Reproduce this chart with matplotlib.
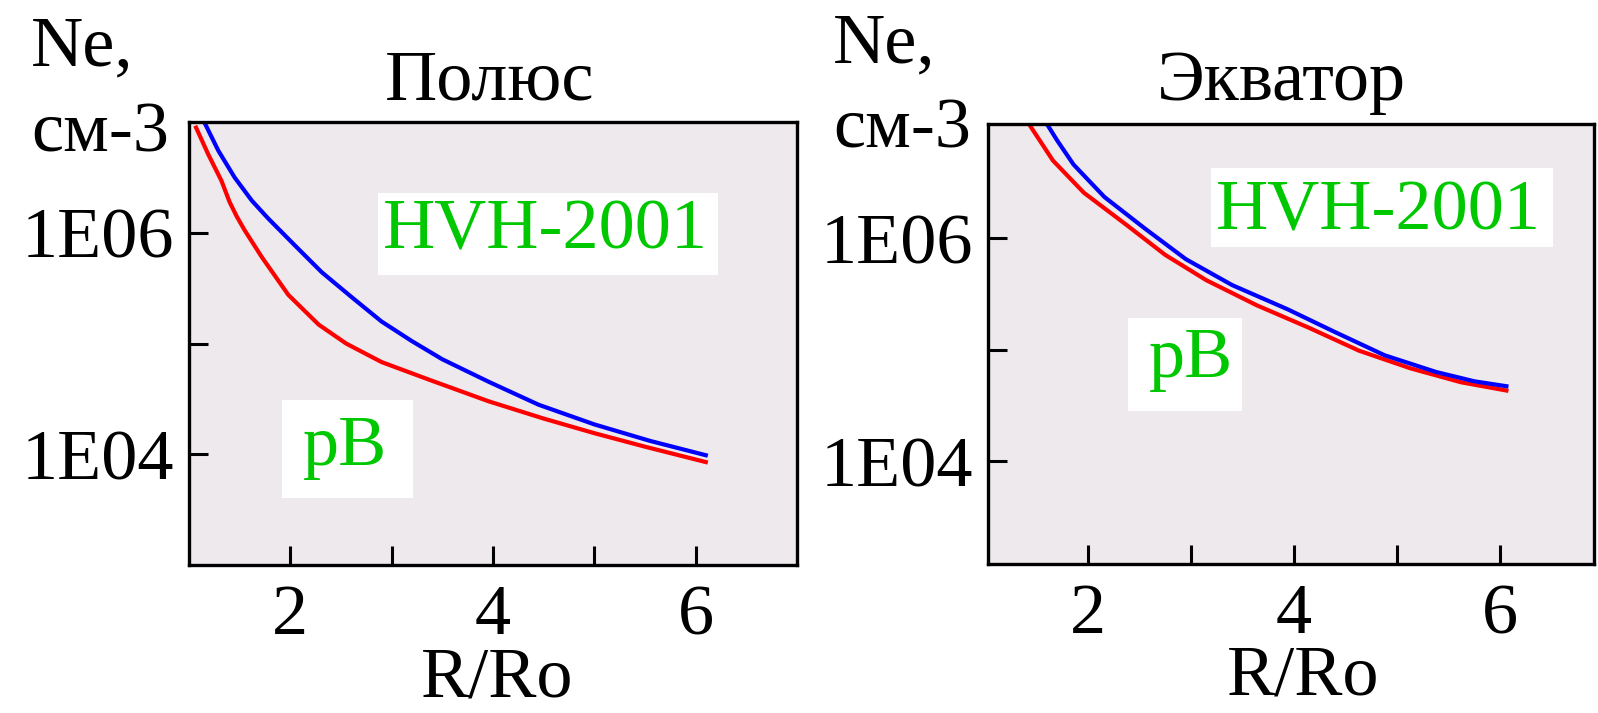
import matplotlib
matplotlib.use("Agg")
import matplotlib.pyplot as plt
from matplotlib.patches import Rectangle
from matplotlib.ticker import FixedLocator, FixedFormatter, NullLocator

W, H, DPI = 1598, 713, 100

# Electron density profiles, Ne [cm^-3] versus R/Ro
# Polar region
r_pole_hvh = [1.15, 1.29, 1.45, 1.62, 1.78, 2.05, 2.31, 2.61, 2.90, 3.20, 3.50,
              3.96, 4.45, 5.00, 5.55, 6.10]
ne_pole_hvh = [1.0e7, 5.5e6, 3.16e6, 1.95e6, 1.35e6, 7.6e5, 4.4e5, 2.6e5, 1.58e5,
               1.05e5, 7.2e4, 4.5e4, 2.8e4, 1.86e4, 1.32e4, 9.8e3]
r_pole_pb = [1.07, 1.19, 1.32, 1.40, 1.47, 1.55, 1.72, 1.98, 2.28, 2.55, 2.90,
             3.40, 3.96, 4.50, 5.00, 5.50, 6.10]
ne_pole_pb = [8.9e6, 5.1e6, 2.95e6, 1.9e6, 1.41e6, 1.05e6, 6.0e5, 2.75e5, 1.48e5,
              1.0e5, 6.8e4, 4.6e4, 3.0e4, 2.1e4, 1.55e4, 1.17e4, 8.5e3]

# Equatorial region
r_eq_hvh = [1.60, 1.70, 1.86, 2.16, 2.55, 2.95, 3.40, 3.94, 4.39, 4.88, 5.38,
            5.75, 6.06]
ne_eq_hvh = [1.07e7, 7.6e6, 4.6e6, 2.35e6, 1.23e6, 6.5e5, 3.8e5, 2.3e5, 1.45e5,
             8.9e4, 6.3e4, 5.2e4, 4.7e4]
r_eq_pb = [1.44, 1.66, 1.96, 2.36, 2.75, 3.15, 3.64, 4.14, 4.63, 5.13, 5.62, 6.06]
ne_eq_pb = [1.02e7, 5.0e6, 2.57e6, 1.35e6, 7.1e5, 4.2e5, 2.5e5, 1.58e5, 9.8e4,
            6.8e4, 5.1e4, 4.3e4]

panel_titles = ["Полюс", "Экватор"]
x_ticks = [2, 3, 4, 5, 6]
x_tick_labels = ["2", "", "4", "", "6"]
y_ticks = [1e4, 1e5, 1e6]
y_tick_labels = ["1E04", "", "1E06"]
x_label = "R/Ro"
y_label_lines = ["Ne,", "см-3"]
model_label = "HVH-2001"
obs_label = "pB"

plt.rcParams['font.family'] = ['Liberation Serif', 'DejaVu Serif']
FS = 52
GREEN = "#00C800"
BG = "#EDE9EC"


def fx(x):
    return x / W


def fy(y):
    return 1 - y / H


fig = plt.figure(figsize=(W / DPI, H / DPI), dpi=DPI)
fig.patch.set_facecolor("white")

panels = [
    dict(rect=(189, 122, 797, 565), xlim=(1.0, 7.0), ylim=(1e3, 1e7),
         hvh=(r_pole_hvh, ne_pole_hvh), pb=(r_pole_pb, ne_pole_pb),
         title_x=490, ylab_x=31, ylab_y=(65, 151), xlab=(497, 697),
         hvh_box=(378, 193, 718, 275), hvh_txt=(383, 249),
         pb_box=(282, 400, 413, 498), pb_txt=(303, 465)),
    dict(rect=(988, 124, 1594, 564), xlim=(1.03, 6.91), ylim=(1.19e3, 1.064e7),
         hvh=(r_eq_hvh, ne_eq_hvh), pb=(r_eq_pb, ne_eq_pb),
         title_x=1281, ylab_x=833, ylab_y=(62, 148), xlab=(1303, 694),
         hvh_box=(1211, 168, 1553, 247), hvh_txt=(1216, 230),
         pb_box=(1128, 318, 1242, 411), pb_txt=(1149, 377)),
]

for p, title in zip(panels, panel_titles):
    l, t, r, b = p["rect"]
    ax = fig.add_axes([fx(l), fy(b), (r - l) / W, (b - t) / H])
    ax.set_facecolor(BG)
    ax.set_yscale("log")
    ax.set_xlim(*p["xlim"])
    ax.set_ylim(*p["ylim"])

    ax.plot(*p["pb"], color="#FF0000", lw=3.0, solid_joinstyle="round")
    ax.plot(*p["hvh"], color="#0000FF", lw=3.0, solid_joinstyle="round")

    ax.xaxis.set_major_locator(FixedLocator(x_ticks))
    ax.xaxis.set_major_formatter(FixedFormatter(x_tick_labels))
    ax.yaxis.set_major_locator(FixedLocator(y_ticks))
    ax.yaxis.set_major_formatter(FixedFormatter(y_tick_labels))
    ax.xaxis.set_minor_locator(NullLocator())
    ax.yaxis.set_minor_locator(NullLocator())
    ax.tick_params(axis="both", direction="in", length=14, width=2.2,
                   labelsize=FS, colors="black")
    ax.tick_params(axis="x", pad=14)
    ax.tick_params(axis="y", pad=11)
    for s in ax.spines.values():
        s.set_linewidth(2.4)
        s.set_color("black")

    # Panel title and axis labels
    fig.text(fx(p["title_x"]), fy(100), title, ha="center", va="baseline",
             fontsize=FS)
    fig.text(fx(p["ylab_x"]), fy(p["ylab_y"][0]), y_label_lines[0],
             ha="left", va="baseline", fontsize=FS)
    fig.text(fx(p["ylab_x"]), fy(p["ylab_y"][1]), y_label_lines[1],
             ha="left", va="baseline", fontsize=FS)
    fig.text(fx(p["xlab"][0]), fy(p["xlab"][1]), x_label, ha="center",
             va="baseline", fontsize=FS)

    # Curve labels on white boxes
    for box, pos, txt in ((p["hvh_box"], p["hvh_txt"], model_label),
                          (p["pb_box"], p["pb_txt"], obs_label)):
        bl, bt, br, bb = box
        fig.add_artist(Rectangle((fx(bl), fy(bb)), (br - bl) / W, (bb - bt) / H,
                                 transform=fig.transFigure, facecolor="white",
                                 edgecolor="none", zorder=3))
        fig.text(fx(pos[0]), fy(pos[1]), txt, ha="left", va="baseline",
                 fontsize=FS, color=GREEN, zorder=4)

fig.savefig("out.png", dpi=DPI, facecolor="white")
